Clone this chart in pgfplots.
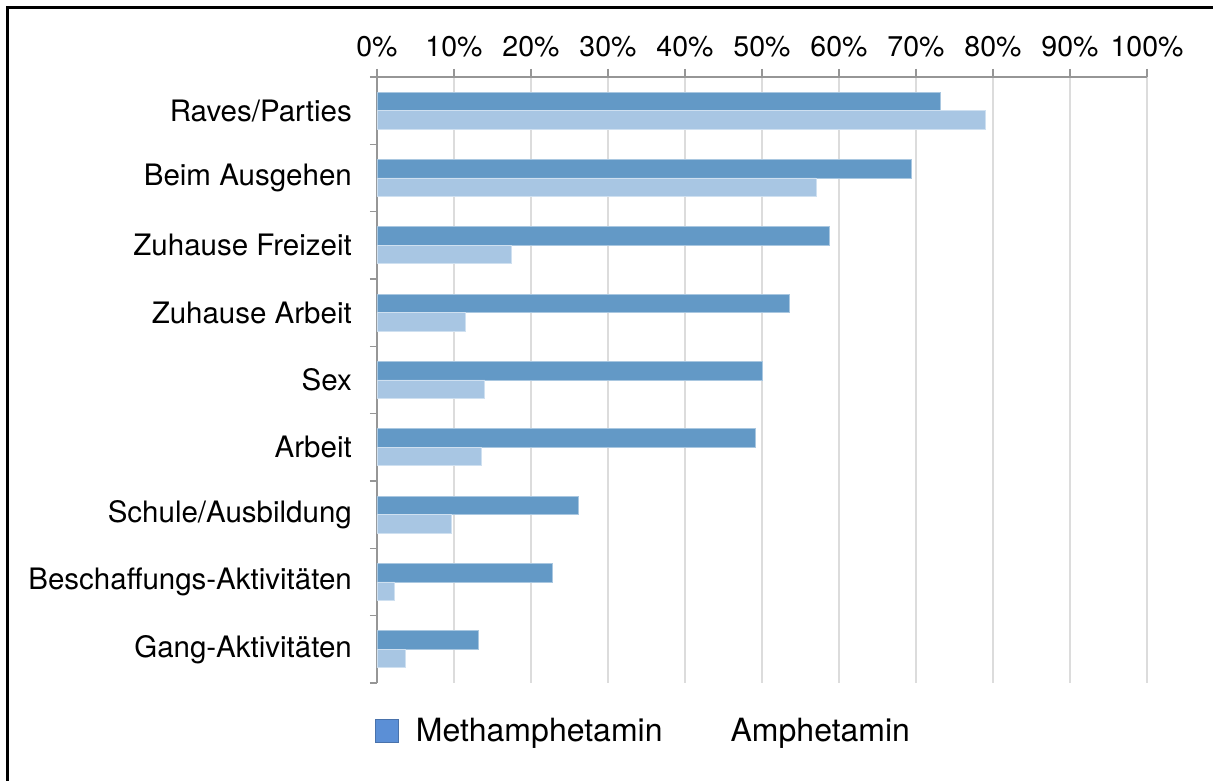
\documentclass[border=0pt]{standalone}
\usepackage{fontspec}
\setmainfont{TeX Gyre Heros}
\usepackage{pgfplots}
\pgfplotsset{compat=1.18}
\definecolor{methc}{RGB}{99,153,198}
\definecolor{amphc}{RGB}{168,198,227}
\definecolor{legc}{RGB}{91,143,214}
\definecolor{axc}{RGB}{150,150,150}
\definecolor{gridc}{RGB}{220,220,220}
\begin{document}
\begin{tikzpicture}[x=1bp,y=1bp]
\useasboundingbox (-377,-98) rectangle (836,683);
\draw[line width=2.2bp] (-369.5,-98) -- (-369.5,675.5) -- (836,675.5);
\begin{axis}[
  at={(0,0)}, anchor=south west,
  scale only axis, width=770bp, height=606bp,
  xbar, bar width=18.5bp,
  xmin=0, xmax=100, ymin=0.5, ymax=9.5,
  axis x line*=top, axis y line*=left,
  axis line style={axc, line width=1.3bp},
  tick align=outside,
  major tick length=8bp, minor tick length=7bp,
  tick style={axc, line width=1.3bp},
  xtick={0,10,...,100},
  xticklabels={0\%,10\%,20\%,30\%,40\%,50\%,60\%,70\%,80\%,90\%,100\%},
  xmajorgrids, grid style={gridc, line width=1.3bp},
  ytick={1,...,9},
  yticklabels={Gang-Aktivitäten,Beschaffungs-Aktivitäten,Schule/Ausbildung,Arbeit,Sex,Zuhause Arbeit,Zuhause Freizeit,Beim Ausgehen,Raves/Parties},
  minor ytick={0.5,1.5,...,9.5},
  every major y tick/.append style={draw=none},
  ticklabel style={inner sep=0pt},
  xticklabel style={anchor=base, yshift=12.5bp, font=\fontsize{28.5bp}{33bp}\selectfont},
  yticklabel style={anchor=east, xshift=-17bp, font=\fontsize{29.5bp}{34bp}\selectfont},
  legend style={draw=none, fill=none, at={(-0.0026,-0.079)}, anchor=west,
    inner sep=0pt, nodes={inner sep=0pt, font=\fontsize{32bp}{38bp}\selectfont},
    /tikz/every odd column/.style={column sep=17bp},
    /tikz/every even column/.style={column sep=28bp}},
  legend columns=2, legend cell align=left,
]
\addplot[fill=methc, draw=white!45!methc, line width=0.8bp, bar shift=9.25bp,
  legend image code/.code={\draw[fill=legc, draw=legc!80!black, line width=0.8bp] (0bp,-11.5bp) rectangle (23bp,11.5bp);}]
  coordinates {(73.2,9) (69.4,8) (58.8,7) (53.5,6) (50.1,5) (49.1,4) (26.2,3) (22.8,2) (13.2,1)};
\addlegendentry{Methamphetamin}
\addplot[fill=amphc, draw=white!45!amphc, line width=0.8bp, bar shift=-9.25bp,
  legend image code/.code={\path[draw=none, fill=none] (0bp,-11.5bp) rectangle (23bp,11.5bp);}]
  coordinates {(79.0,9) (57.0,8) (17.5,7) (11.5,6) (14.0,5) (13.5,4) (9.7,3) (2.3,2) (3.7,1)};
\addlegendentry{Amphetamin}
\end{axis}
\end{tikzpicture}
\end{document}
